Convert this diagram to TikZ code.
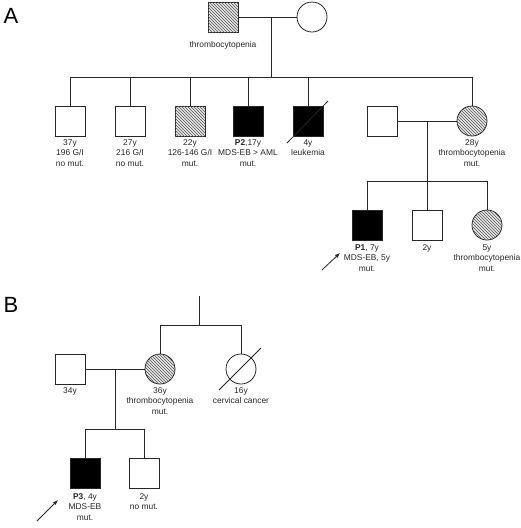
\documentclass[tikz,border=0pt]{standalone}
\usepackage{fontspec}
\setmainfont{Liberation Sans}
\usetikzlibrary{patterns,arrows.meta}

\tikzset{
  male/.style={draw,minimum size=30pt,inner sep=0pt},
  female/.style={draw,circle,minimum size=30pt,inner sep=0pt},
  carrier/.style={fill=gray!20,postaction={pattern=north west lines,pattern color=gray!70!black}},
  affected/.style={fill=black},
  info/.style={font=\fontsize{8.4}{10.5}\selectfont,align=center,anchor=north,inner sep=0pt,text=black!85},
  panel/.style={font=\fontsize{22}{22}\selectfont,anchor=base,inner sep=0pt},
  proband/.style={-{Latex[length=5pt,width=4pt]},line width=0.8pt},
}

\begin{document}
\begin{tikzpicture}[x=1pt,y=-1pt,line width=0.8pt,draw=black!85]
  \useasboundingbox (0,0) rectangle (520,528);
  % panel A
  \node[panel] (labA) at (11,23) {A};
  \node[male,carrier] (gf) at (223,17) {};
  \node[female] (gm) at (312,17) {};
  \node[info] (gfl) at (223,41) {thrombocytopenia};
  \coordinate (gc) at (271,17);
  \coordinate (gs) at (271,77);
  \draw (gf) -- (gm);
  \draw (gc) -- (gs);
  \node[male] (c1) at (70,121) {};
  \node[male] (c2) at (130,121) {};
  \node[male,carrier] (c3) at (190,121) {};
  \node[male,affected] (c4) at (248,121) {};
  \node[male,affected] (c5) at (308,121) {};
  \node[female,carrier] (c6) at (472,121) {};
  \node[male] (sp) at (382,121) {};
  \draw (c1.north) -- (c1.north |- gs) -- (c6.north |- gs) -- (c6.north);
  \foreach \k in {2,3,4,5}
    \draw (c\k.north) -- (c\k.north |- gs);
  \draw ([shift={(-21,22)}]c5.center) -- ([shift={(20,-20)}]c5.center);
  \node[info] (c1l) at (70,139) {37y\\196 G/I\\no mut.};
  \node[info] (c2l) at (130,139) {27y\\216 G/I\\no mut.};
  \node[info] (c3l) at (190,139) {22y\\126-146 G/I\\mut.};
  \node[info] (c4l) at (248,139) {\textbf{P2},17y\\MDS-EB > AML\\mut.};
  \node[info] (c5l) at (308,139) {4y\\leukemia};
  \node[info] (c6l) at (472,139) {28y\\thrombocytopenia\\mut.};
  % third generation
  \coordinate (pc) at (427,121);
  \coordinate (ps) at (427,181);
  \draw (sp) -- (c6);
  \draw (pc) -- (ps);
  \node[male,affected] (p1) at (367,225) {};
  \node[male] (d2) at (427,225) {};
  \node[female,carrier] (d3) at (487,225) {};
  \draw (p1.north) -- (p1.north |- ps) -- (d3.north |- ps) -- (d3.north);
  \draw (d2.north) -- (ps);
  \node[info] (p1l) at (367,244) {\textbf{P1}, 7y\\MDS-EB, 5y\\mut.};
  \node[info] (d2l) at (427,244) {2y};
  \node[info] (d3l) at (487,244) {5y\\thrombocytopenia\\mut.};
  \coordinate (p1a) at (322,270);
  \draw[proband] (p1a) -- ([shift={(-27,28)}]p1.center);
  % panel B
  \node[panel] (labB) at (11,312) {B};
  \coordinate (bt) at (199,296);
  \coordinate (bs) at (199,325);
  \draw (bt) -- (bs);
  \node[female,carrier] (mo) at (160,369) {};
  \node[female] (au) at (241,369) {};
  \node[male] (fa) at (70,369) {};
  \draw (mo.north) -- (mo.north |- bs) -- (au.north |- bs) -- (au.north);
  \draw ([shift={(-22,21)}]au.center) -- ([shift={(20,-21)}]au.center);
  \draw (fa) -- (mo);
  \coordinate (bc) at (115,369);
  \coordinate (bk) at (115,429);
  \draw (bc) -- (bk);
  \node[info] (fal) at (70,387) {34y};
  \node[info] (mol) at (160,387) {36y\\thrombocytopenia\\mut.};
  \node[info] (aul) at (241,387) {16y\\cervical cancer};
  \node[male,affected] (p3) at (85,473) {};
  \node[male] (k2) at (144,473) {};
  \draw (p3.north) -- (p3.north |- bk) -- (k2.north |- bk) -- (k2.north);
  \node[info] (p3l) at (85,493) {\textbf{P3}, 4y\\MDS-EB\\mut.};
  \node[info] (k2l) at (144,493) {2y\\no mut.};
  \coordinate (p3a) at (37,521);
  \draw[proband] (p3a) -- ([shift={(-27,27)}]p3.center);
\end{tikzpicture}
\end{document}
